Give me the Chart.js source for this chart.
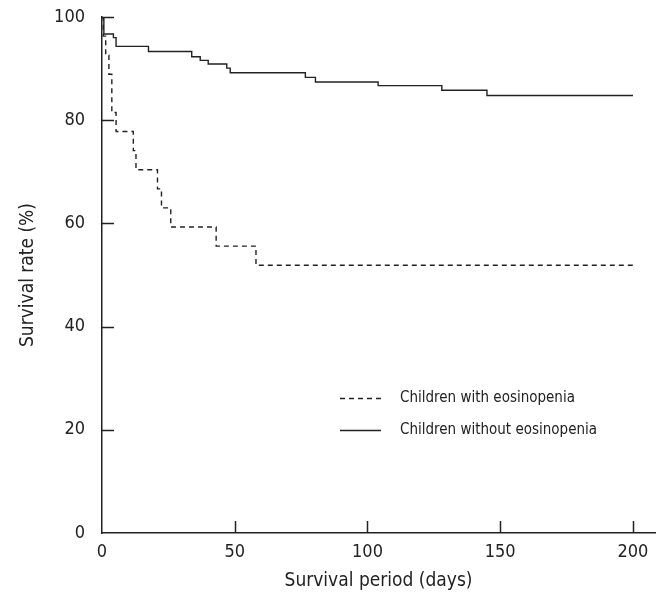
<!DOCTYPE html>
<html>
<head>
<meta charset="utf-8">
<script src="https://cdn.jsdelivr.net/npm/chart.js@4.4.1/dist/chart.umd.min.js"></script>
<style>
  html, body { margin: 0; padding: 0; background: #fff; }
</style>
</head>
<body>
<canvas id="kmChart" width="659" height="601"></canvas>
<script>
// Kaplan-Meier curves (day, survival %)
const eosDays = [0, 0.5, 1.4, 2.6, 3.7, 5.3, 11.8, 12.8, 20.9, 22.4, 25.9, 43, 58, 200];
const eosSurv = [100, 96.3, 92.6, 88.9, 81.5, 77.8, 74.1, 70.4, 66.7, 63.0, 59.3, 55.6, 51.9, 51.9];

const noEosDays = [0, 0.7, 4.3, 5.3, 17.5, 33.8, 37, 40, 47, 48.3, 76.6, 80.4, 104, 128, 145, 200];
const noEosSurv = [100, 96.7, 96.0, 94.3, 93.3, 92.3, 91.6, 90.9, 90.1, 89.2, 88.3, 87.4, 86.7, 85.8, 84.8, 84.8];

const seriesNames = ['Children with eosinopenia', 'Children without eosinopenia'];
const xTicks = [0, 50, 100, 150, 200];
const yTicks = [0, 20, 40, 60, 80, 100];

const FONT = "'Liberation Sans Narrow', 'Arial Narrow', 'DejaVu Sans Condensed', sans-serif";
const INK = '#222';

const toPoints = (xs, ys) => xs.map((x, i) => ({ x: x, y: ys[i] }));

// tick marks pointing into the plot + legend inside the plot
const innerTicks = {
  id: 'innerTicks',
  afterDraw(c) {
    const { ctx, chartArea, scales: { x, y } } = c;
    ctx.save();
    ctx.strokeStyle = INK;
    ctx.lineWidth = 1.5;
    ctx.beginPath();
    y.ticks.forEach(t => {
      if (t.value === 0) return;
      const py = Math.round(y.getPixelForValue(t.value)) + 0.5;
      ctx.moveTo(chartArea.left, py);
      ctx.lineTo(chartArea.left + 12, py);
    });
    x.ticks.forEach(t => {
      if (t.value === 0) return;
      const px = Math.round(x.getPixelForValue(t.value)) + 0.5;
      ctx.moveTo(px, chartArea.bottom);
      ctx.lineTo(px, chartArea.bottom - 12);
    });
    ctx.stroke();

    // legend
    const rows = [398, 430];
    ctx.font = '15px ' + FONT;
    ctx.fillStyle = INK;
    ctx.textBaseline = 'middle';
    c.data.datasets.forEach((ds, i) => {
      ctx.beginPath();
      ctx.setLineDash(ds.borderDash || []);
      ctx.lineWidth = 1.3;
      ctx.moveTo(340, rows[i] + 0.5);
      ctx.lineTo(381, rows[i] + 0.5);
      ctx.stroke();
      ctx.setLineDash([]);
      ctx.fillText(ds.label, 400, rows[i]);
    });
    ctx.restore();
  }
};

new Chart(document.getElementById('kmChart'), {
  type: 'line',
  data: {
    datasets: [
      {
        label: seriesNames[0],
        data: toPoints(eosDays, eosSurv),
        borderColor: INK,
        borderWidth: 1.4,
        borderDash: [5, 4],
        stepped: 'before',
        pointRadius: 0,
        fill: false
      },
      {
        label: seriesNames[1],
        data: toPoints(noEosDays, noEosSurv),
        borderColor: INK,
        borderWidth: 1.4,
        stepped: 'before',
        pointRadius: 0,
        fill: false
      }
    ]
  },
  options: {
    responsive: false,
    animation: false,
    layout: { padding: { top: 17, right: 4, left: 0, bottom: 0 } },
    plugins: {
      legend: { display: false },
      tooltip: { enabled: false }
    },
    scales: {
      x: {
        type: 'linear',
        min: 0,
        max: 208.3,
        afterBuildTicks: s => { s.ticks = xTicks.map(v => ({ value: v })); },
        afterFit: s => { s.height = 68; s.paddingRight = 0; },
        grid: { display: false, drawTicks: false },
        border: { display: true, color: INK, width: 1.5 },
        ticks: { color: INK, padding: 9, font: { family: FONT, size: 18 } },
        title: {
          display: true,
          text: 'Survival period (days)',
          color: INK,
          font: { family: FONT, size: 19 },
          padding: { top: 0, bottom: 9 }
        }
      },
      y: {
        min: 0,
        max: 100,
        afterBuildTicks: s => { s.ticks = yTicks.map(v => ({ value: v })); },
        afterFit: s => { s.width = 102; s.paddingTop = 0; s.paddingBottom = 0; },
        grid: { display: false, drawTicks: false },
        border: { display: true, color: INK, width: 1.5 },
        ticks: { color: INK, padding: 17, font: { family: FONT, size: 18 } },
        title: {
          display: true,
          text: 'Survival rate (%)',
          color: INK,
          font: { family: FONT, size: 19 },
          padding: { top: 17, bottom: 0 }
        }
      }
    }
  },
  plugins: [innerTicks]
});
</script>
</body>
</html>
